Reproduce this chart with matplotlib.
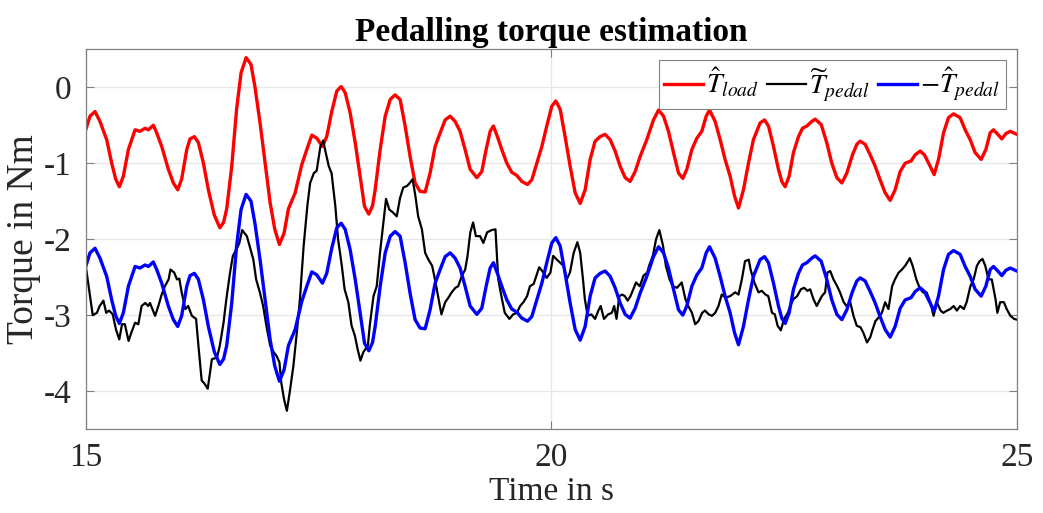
import matplotlib
matplotlib.use("Agg")
import matplotlib.pyplot as plt

# ---- data ----------------------------------------------------------------
t_load = [15.00, 15.046, 15.10, 15.153, 15.225, 15.279, 15.322, 15.361, 15.404, 15.458,
          15.53, 15.583, 15.637, 15.673, 15.726, 15.762, 15.816, 15.887, 15.941, 15.988,
          16.03, 16.085, 16.12, 16.167, 16.21, 16.264, 16.317, 16.38, 16.44, 16.48,
          16.514, 16.568, 16.62, 16.668, 16.722, 16.775, 16.818, 16.872, 16.926, 16.98,
          17.03, 17.08, 17.13, 17.177, 17.249, 17.32, 17.374, 17.428, 17.481, 17.542,
          17.588, 17.642, 17.696, 17.743, 17.786, 17.84, 17.894, 17.947, 17.994, 18.04,
          18.08, 18.108, 18.162, 18.216, 18.27, 18.322, 18.376, 18.43, 18.483, 18.537,
          18.59, 18.645, 18.698, 18.752, 18.806, 18.86, 18.913, 18.967, 19.02, 19.074,
          19.128, 19.20, 19.253, 19.30, 19.343, 19.378, 19.421, 19.468, 19.522, 19.575,
          19.629, 19.683, 19.744, 19.79, 19.844, 19.898, 19.951, 20.005, 20.048, 20.095,
          20.148, 20.202, 20.256, 20.31, 20.363, 20.417, 20.47, 20.524, 20.578, 20.632,
          20.685, 20.739, 20.793, 20.846, 20.90, 20.954, 21.025, 21.097, 21.151, 21.205,
          21.258, 21.312, 21.366, 21.412, 21.455, 21.509, 21.563, 21.616, 21.663, 21.699,
          21.759, 21.813, 21.866, 21.92, 21.967, 22.01, 22.063, 22.117, 22.17, 22.242,
          22.289, 22.332, 22.386, 22.439, 22.475, 22.511, 22.554, 22.60, 22.654, 22.697,
          22.744, 22.797, 22.833, 22.898, 22.958, 23.012, 23.066, 23.12, 23.173, 23.234,
          23.281, 23.316, 23.37, 23.424, 23.478, 23.531, 23.585, 23.639, 23.692, 23.746,
          23.80, 23.864, 23.907, 23.961, 24.007, 24.068, 24.111, 24.158, 24.212, 24.265,
          24.319, 24.39, 24.444, 24.498, 24.551, 24.616, 24.666, 24.713, 24.748, 24.795,
          24.838, 24.881, 24.928, 25.00]

T_load = [-0.56, -0.38, -0.32, -0.45, -0.69, -1.00, -1.21, -1.31, -1.17, -0.82,
          -0.56, -0.58, -0.54, -0.56, -0.50, -0.60, -0.78, -1.08, -1.26, -1.35,
          -1.21, -0.82, -0.68, -0.65, -0.73, -1.00, -1.35, -1.68, -1.85, -1.78,
          -1.60, -1.04, -0.29, 0.19, 0.39, 0.30, 0.00, -0.47, -1.00, -1.52,
          -1.87, -2.07, -1.92, -1.60, -1.39, -1.02, -0.82, -0.63, -0.67, -0.78,
          -0.65, -0.32, -0.05, 0.01, -0.07, -0.34, -0.73, -1.17, -1.57, -1.67,
          -1.56, -1.35, -0.82, -0.38, -0.16, -0.10, -0.16, -0.51, -0.91, -1.26,
          -1.37, -1.38, -1.13, -0.78, -0.60, -0.43, -0.38, -0.45, -0.58, -0.82,
          -1.08, -1.19, -1.11, -0.82, -0.58, -0.51, -0.65, -0.82, -1.00, -1.12,
          -1.16, -1.24, -1.28, -1.22, -1.00, -0.78, -0.51, -0.25, -0.18, -0.29,
          -0.65, -1.04, -1.39, -1.53, -1.35, -0.95, -0.71, -0.65, -0.62, -0.69,
          -0.84, -1.04, -1.19, -1.24, -1.11, -0.91, -0.69, -0.43, -0.30, -0.38,
          -0.58, -0.86, -1.13, -1.20, -1.08, -0.82, -0.67, -0.58, -0.38, -0.30,
          -0.45, -0.69, -0.95, -1.17, -1.43, -1.59, -1.35, -1.00, -0.69, -0.47,
          -0.43, -0.51, -0.78, -1.08, -1.24, -1.31, -1.17, -0.86, -0.65, -0.54,
          -0.51, -0.45, -0.42, -0.49, -0.73, -1.00, -1.19, -1.26, -1.13, -0.89,
          -0.75, -0.71, -0.75, -0.89, -1.04, -1.22, -1.39, -1.49, -1.35, -1.11,
          -1.00, -0.97, -0.89, -0.84, -0.89, -1.04, -1.15, -0.95, -0.60, -0.40,
          -0.35, -0.40, -0.56, -0.69, -0.86, -0.95, -0.82, -0.60, -0.56, -0.62,
          -0.68, -0.61, -0.58, -0.62]

T_pedal_est = [-2.36, -2.18, -2.12, -2.25, -2.49, -2.80, -3.01, -3.11, -2.97, -2.62,
               -2.36, -2.38, -2.34, -2.36, -2.30, -2.40, -2.58, -2.88, -3.06, -3.15,
               -3.01, -2.62, -2.48, -2.45, -2.53, -2.80, -3.15, -3.48, -3.65, -3.58,
               -3.40, -2.84, -2.09, -1.61, -1.41, -1.50, -1.80, -2.27, -2.80, -3.32,
               -3.67, -3.87, -3.72, -3.40, -3.19, -2.82, -2.62, -2.43, -2.47, -2.58,
               -2.45, -2.12, -1.85, -1.79, -1.87, -2.14, -2.53, -2.97, -3.37, -3.47,
               -3.36, -3.15, -2.62, -2.18, -1.96, -1.90, -1.96, -2.31, -2.71, -3.06,
               -3.17, -3.18, -2.93, -2.58, -2.40, -2.23, -2.18, -2.25, -2.38, -2.62,
               -2.88, -2.99, -2.91, -2.62, -2.38, -2.31, -2.45, -2.62, -2.80, -2.92,
               -2.96, -3.04, -3.08, -3.02, -2.80, -2.58, -2.31, -2.05, -1.98, -2.09,
               -2.45, -2.84, -3.19, -3.33, -3.15, -2.75, -2.51, -2.45, -2.42, -2.49,
               -2.64, -2.84, -2.99, -3.04, -2.91, -2.71, -2.49, -2.23, -2.10, -2.18,
               -2.38, -2.66, -2.93, -3.00, -2.88, -2.62, -2.47, -2.38, -2.18, -2.10,
               -2.25, -2.49, -2.75, -2.97, -3.23, -3.39, -3.15, -2.80, -2.49, -2.27,
               -2.23, -2.31, -2.58, -2.88, -3.04, -3.11, -2.97, -2.66, -2.45, -2.34,
               -2.31, -2.25, -2.22, -2.29, -2.53, -2.80, -2.99, -3.06, -2.93, -2.69,
               -2.55, -2.51, -2.55, -2.69, -2.84, -3.02, -3.19, -3.29, -3.15, -2.91,
               -2.80, -2.77, -2.69, -2.64, -2.69, -2.84, -2.95, -2.75, -2.40, -2.20,
               -2.15, -2.20, -2.36, -2.49, -2.66, -2.75, -2.62, -2.40, -2.36, -2.42,
               -2.48, -2.41, -2.38, -2.42]

t_meas = [15.00, 15.04, 15.075, 15.12, 15.15, 15.19, 15.22, 15.25, 15.29, 15.325,
          15.36, 15.39, 15.42, 15.46, 15.49, 15.53, 15.565, 15.60, 15.64, 15.67,
          15.69, 15.745, 15.78, 15.815, 15.85, 15.89, 15.91, 15.95, 15.98, 16.005,
          16.03, 16.07, 16.10, 16.14, 16.185, 16.21, 16.245, 16.28, 16.31, 16.335,
          16.355, 16.41, 16.44, 16.48, 16.51, 16.55, 16.58, 16.62, 16.65, 16.68,
          16.73, 16.76, 16.80, 16.83, 16.87, 16.905, 16.94, 16.98, 17.02, 17.05,
          17.08, 17.10, 17.13, 17.16, 17.19, 17.23, 17.27, 17.30, 17.34, 17.38,
          17.41, 17.45, 17.48, 17.52, 17.55, 17.57, 17.61, 17.64, 17.68, 17.71,
          17.75, 17.78, 17.82, 17.855, 17.89, 17.92, 17.95, 17.98, 18.03, 18.05,
          18.09, 18.125, 18.16, 18.20, 18.225, 18.26, 18.30, 18.34, 18.375, 18.41,
          18.45, 18.48, 18.51, 18.54, 18.57, 18.61, 18.645, 18.68, 18.72, 18.75,
          18.79, 18.82, 18.86, 18.895, 18.93, 18.97, 19.00, 19.04, 19.075, 19.10,
          19.13, 19.16, 19.19, 19.235, 19.27, 19.31, 19.36, 19.40, 19.43, 19.47,
          19.50, 19.55, 19.59, 19.63, 19.665, 19.70, 19.74, 19.77, 19.81, 19.84,
          19.87, 19.915, 19.95, 19.99, 20.02, 20.06, 20.095, 20.13, 20.165, 20.20,
          20.24, 20.28, 20.31, 20.34, 20.36, 20.39, 20.43, 20.47, 20.505, 20.53,
          20.565, 20.61, 20.65, 20.675, 20.70, 20.73, 20.76, 20.79, 20.82, 20.85,
          20.88, 20.91, 20.95, 20.99, 21.03, 21.05, 21.09, 21.125, 21.16, 21.20,
          21.23, 21.27, 21.305, 21.35, 21.40, 21.44, 21.47, 21.51, 21.545, 21.58,
          21.62, 21.65, 21.69, 21.725, 21.76, 21.795, 21.83, 21.87, 21.92, 21.975,
          22.01, 22.046, 22.08, 22.12, 22.14, 22.18, 22.225, 22.26, 22.30, 22.33,
          22.37, 22.40, 22.43, 22.465, 22.50, 22.54, 22.565, 22.60, 22.64, 22.68,
          22.715, 22.75, 22.78, 22.815, 22.85, 22.905, 22.94, 22.965, 22.995, 23.03,
          23.07, 23.10, 23.14, 23.17, 23.21, 23.245, 23.28, 23.32, 23.35, 23.39,
          23.425, 23.45, 23.48, 23.515, 23.55, 23.585, 23.62, 23.64, 23.66, 23.69,
          23.73, 23.765, 23.80, 23.85, 23.88, 23.92, 23.955, 23.99, 24.03, 24.07,
          24.105, 24.14, 24.18, 24.21, 24.25, 24.285, 24.32, 24.355, 24.39, 24.43,
          24.46, 24.50, 24.535, 24.57, 24.60, 24.63, 24.66, 24.695, 24.73, 24.77,
          24.79, 24.82, 24.86, 24.89, 24.93, 24.97, 25.00]

T_pedal_meas = [-2.35, -2.70, -3.00, -2.97, -2.88, -2.81, -2.97, -2.94, -2.99, -3.19,
                -3.32, -3.12, -3.12, -3.34, -3.23, -3.10, -3.12, -2.88, -2.84, -2.88,
                -2.84, -3.01, -2.88, -2.73, -2.62, -2.53, -2.40, -2.44, -2.53, -2.52,
                -2.70, -2.92, -2.88, -3.01, -3.05, -3.40, -3.86, -3.91, -3.97, -3.75,
                -3.58, -3.56, -3.40, -3.10, -2.79, -2.44, -2.22, -2.13, -2.05, -1.88,
                -1.96, -2.09, -2.27, -2.53, -2.70, -2.88, -3.14, -3.40, -3.49, -3.54,
                -3.62, -3.89, -4.11, -4.26, -4.02, -3.67, -3.19, -2.79, -2.09, -1.56,
                -1.26, -1.13, -1.10, -0.78, -0.70, -0.82, -1.04, -1.13, -1.56, -2.00,
                -2.35, -2.66, -2.83, -3.14, -3.27, -3.45, -3.60, -3.49, -3.40, -3.14,
                -2.75, -2.62, -2.18, -1.74, -1.47, -1.61, -1.65, -1.70, -1.46, -1.32,
                -1.30, -1.26, -1.21, -1.43, -1.70, -1.87, -2.18, -2.27, -2.35, -2.53,
                -2.79, -2.99, -2.83, -2.77, -2.70, -2.64, -2.62, -2.48, -2.40, -2.22,
                -1.91, -1.78, -1.96, -1.96, -2.05, -1.91, -1.88, -1.87, -2.53, -2.79,
                -2.97, -3.05, -2.99, -2.97, -2.88, -2.83, -2.75, -2.62, -2.59, -2.48,
                -2.37, -2.44, -2.51, -2.44, -2.22, -2.27, -2.31, -2.35, -2.53, -2.44,
                -2.18, -2.04, -2.18, -2.53, -2.79, -3.01, -2.99, -3.05, -2.94, -2.88,
                -3.05, -2.99, -2.97, -2.88, -3.05, -2.75, -2.73, -2.75, -2.81, -2.75,
                -2.66, -2.57, -2.62, -2.48, -2.44, -2.35, -2.22, -2.00, -1.88, -2.09,
                -2.35, -2.53, -2.62, -2.64, -2.57, -2.79, -2.88, -2.97, -3.12, -3.08,
                -2.97, -2.94, -2.99, -3.01, -2.97, -2.88, -2.73, -2.77, -2.75, -2.70,
                -2.73, -2.53, -2.29, -2.27, -2.40, -2.57, -2.70, -2.68, -2.73, -2.75,
                -2.97, -2.99, -3.14, -3.20, -3.05, -2.97, -2.88, -2.79, -2.75, -2.66,
                -2.64, -2.68, -2.66, -2.79, -2.88, -2.75, -2.70, -2.44, -2.42, -2.53,
                -2.62, -2.70, -2.83, -2.88, -2.83, -3.01, -3.14, -3.16, -3.23, -3.36,
                -3.29, -3.19, -3.08, -3.03, -2.97, -2.83, -2.92, -2.77, -2.62, -2.53,
                -2.44, -2.40, -2.35, -2.25, -2.35, -2.53, -2.64, -2.70, -2.70, -2.83,
                -3.01, -2.83, -2.94, -2.97, -2.94, -2.92, -2.88, -2.94, -2.88, -2.92,
                -2.83, -2.62, -2.53, -2.35, -2.29, -2.26, -2.35, -2.53, -2.53, -2.79,
                -2.97, -2.83, -2.83, -2.92, -3.01, -3.05, -3.06]

x_ticks = [15, 20, 25]
y_ticks = [-4, -3, -2, -1, 0]

# ---- figure ----------------------------------------------------------------
plt.rcParams["font.family"] = ["Liberation Serif", "DejaVu Serif"]
plt.rcParams["mathtext.fontset"] = "stix"

fig = plt.figure(figsize=(10.43, 5.13), dpi=100)
ax = fig.add_axes([0.0822, 0.1637, 0.8928, 0.7402])

ax.plot(t_load, T_load, color="#ff0000", lw=2.4, solid_joinstyle="round",
        label=r"$\hat{T}_{load}$")
ax.plot(t_meas, T_pedal_meas, color="black", lw=1.6, solid_joinstyle="round",
        label=r"$\widetilde{T}_{pedal}$")
ax.plot(t_load, T_pedal_est, color="#0000ff", lw=2.4, solid_joinstyle="round",
        label=r"$-\hat{T}_{pedal}$")

ax.set_xlim(15, 25)
ax.set_ylim(-4.5, 0.5)
ax.set_xticks(x_ticks)
ax.set_yticks(y_ticks)
ax.set_xticklabels([str(v) for v in x_ticks])
ax.set_yticklabels([str(v) for v in y_ticks])
ax.grid(True, color="#e6e6e6", lw=0.9)
ax.set_axisbelow(True)
ax.tick_params(direction="in", length=6, width=0.8, colors="#808080",
               labelcolor="#262626", labelsize=24, top=True, right=True, pad=10)
for sp in ax.spines.values():
    sp.set_color("#808080")
    sp.set_linewidth(0.9)

ax.set_xlabel("Time in s", fontsize=24, color="#262626", labelpad=2)
ax.set_ylabel("Torque in Nm", fontsize=27, color="#262626", labelpad=2)
ax.set_title("Pedalling torque estimation", fontsize=24, fontweight="bold",
             pad=6)

leg = ax.legend(loc="upper right", ncol=3, fontsize=20, frameon=True,
                fancybox=False, framealpha=1, edgecolor="#808080",
                handlelength=1.4, handletextpad=0.1, columnspacing=0.3,
                borderpad=0.2, borderaxespad=0.4)
leg.get_frame().set_linewidth(0.8)

fig.savefig("out.png", dpi=100)
